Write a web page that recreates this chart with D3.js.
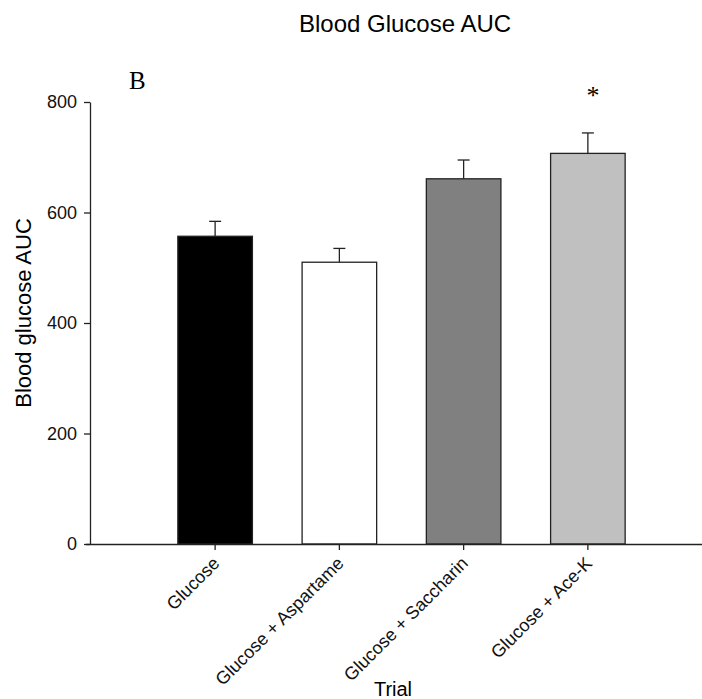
<!DOCTYPE html>
<html>
<head>
<meta charset="utf-8">
<script src="https://cdn.jsdelivr.net/npm/d3@7"></script>
<style>
  body { margin: 0; background: #fff; }
  svg { display: block; }
</style>
</head>
<body>
<svg id="chart" width="702" height="699"></svg>
<script>
// Blood glucose AUC by trial (mean ± SE)
const trials = ["Glucose", "Glucose + Aspartame", "Glucose + Saccharin", "Glucose + Ace-K"];
const meanAUC = [557, 510, 661, 707];
const seAUC = [27, 25, 34, 37];
const barFills = ["#000000", "#ffffff", "#808080", "#c0c0c0"];
const significant = [false, false, false, true];
const yTicks = [0, 200, 400, 600, 800];

const svg = d3.select("#chart");
const sans = "Arial, 'Liberation Sans', sans-serif";
const serif = "'Times New Roman', 'Liberation Serif', serif";

const x = d3.scaleBand()
  .domain(trials)
  .range([153, 650])
  .paddingInner(0.4)
  .paddingOuter(0.2);

const y = d3.scaleLinear().domain([0, 800]).range([544, 102]);

const data = trials.map((t, i) => ({ trial: t, mean: meanAUC[i], se: seAUC[i], fill: barFills[i], sig: significant[i] }));

// Title and panel letter
svg.append("text")
  .attr("x", 405).attr("y", 32)
  .attr("text-anchor", "middle")
  .style("font-family", sans).style("font-size", "24px")
  .text("Blood Glucose AUC");

svg.append("text")
  .attr("x", 129).attr("y", 89)
  .style("font-family", serif).style("font-size", "25px")
  .text("B");

// Error bars (upper only)
const eb = svg.append("g").attr("stroke", "#222").attr("stroke-width", 1.3);
data.forEach(d => {
  const cx = x(d.trial) + x.bandwidth() / 2;
  eb.append("line").attr("x1", cx).attr("x2", cx).attr("y1", y(d.mean)).attr("y2", y(d.mean + d.se));
  eb.append("line").attr("x1", cx - 6).attr("x2", cx + 6).attr("y1", y(d.mean + d.se)).attr("y2", y(d.mean + d.se));
});

// Bars
svg.append("g").selectAll("rect").data(data).join("rect")
  .attr("x", d => x(d.trial))
  .attr("y", d => y(d.mean))
  .attr("width", x.bandwidth())
  .attr("height", d => y(0) - y(d.mean))
  .attr("fill", d => d.fill)
  .attr("stroke", "#222")
  .attr("stroke-width", 1.3);

// Significance marker
svg.append("g").selectAll("text").data(data.filter(d => d.sig)).join("text")
  .attr("x", d => x(d.trial) + x.bandwidth() / 2 + 5)
  .attr("y", d => y(d.mean + d.se) - 29)
  .attr("text-anchor", "middle")
  .style("font-family", serif).style("font-size", "26px")
  .text("*");

// Y axis
const yAxis = svg.append("g")
  .attr("transform", "translate(90,0)")
  .call(d3.axisLeft(y).tickValues(yTicks).tickSize(6).tickPadding(7).tickSizeOuter(0));
yAxis.select(".domain").attr("stroke", "#222").attr("stroke-width", 1.3);
yAxis.selectAll(".tick line").attr("stroke", "#222").attr("stroke-width", 1.3);
yAxis.selectAll(".tick text").style("font-family", sans).style("font-size", "18px").attr("fill", "#111");

// X axis
const xAxis = svg.append("g")
  .attr("transform", "translate(0,544)")
  .call(d3.axisBottom(x).tickSize(6).tickSizeOuter(0));
xAxis.select(".domain").attr("d", "M86,0.5H702").attr("stroke", "#222").attr("stroke-width", 1.3);
xAxis.selectAll(".tick line").attr("stroke", "#222").attr("stroke-width", 1.3);
xAxis.selectAll(".tick text")
  .style("font-family", sans).style("font-size", "18px").attr("fill", "#111")
  .attr("text-anchor", "end")
  .attr("dy", "0.35em")
  .attr("transform", "translate(1,16) rotate(-45)")
  .attr("x", 0).attr("y", 0);

// Axis titles
svg.append("text")
  .attr("transform", "translate(31,313) rotate(-90)")
  .attr("text-anchor", "middle")
  .style("font-family", sans).style("font-size", "22px")
  .text("Blood glucose AUC");

svg.append("text")
  .attr("x", 393).attr("y", 696)
  .attr("text-anchor", "middle")
  .style("font-family", sans).style("font-size", "20px")
  .text("Trial");
</script>
</body>
</html>
